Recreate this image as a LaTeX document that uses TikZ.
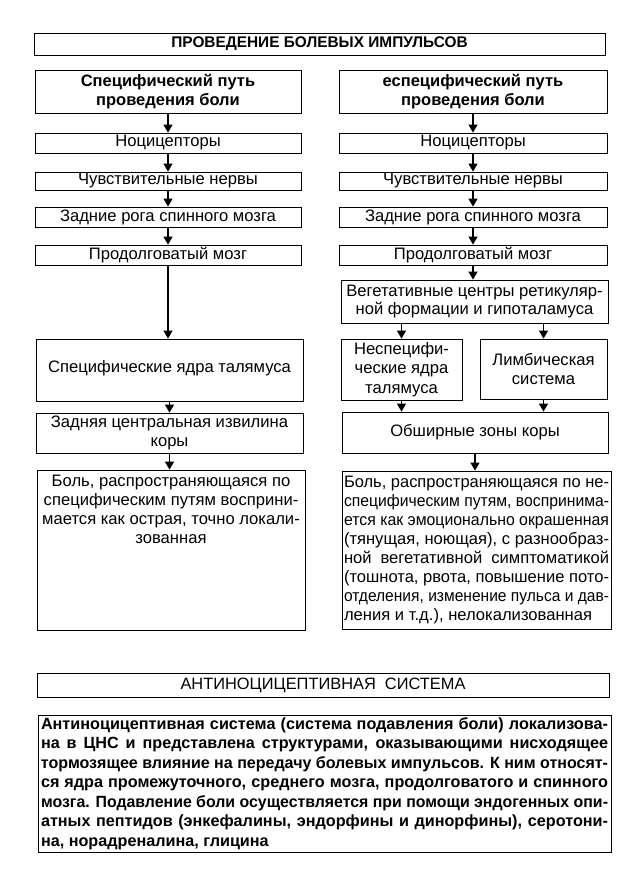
\documentclass[tikz,border=0pt]{standalone}
\usepackage{fontspec}
\setmainfont{Liberation Sans}
\usetikzlibrary{arrows.meta}
\newcommand\fs{\fontsize{16.6}{18.9}\selectfont}
\newcommand\fsb{\fontsize{16.2}{19.5}\selectfont\bfseries}
\newsavebox\jbox
\newcommand\jl[1]{\sbox\jbox{#1}\ifdim\wd\jbox>\linewidth\resizebox{\linewidth}{\height}{#1}\else\makebox[\linewidth][s]{#1}\fi}
\begin{document}
\begin{tikzpicture}[x=1pt,y=-1pt,
  box/.style={draw,line width=0.8pt,inner sep=0pt,align=center,font=\fs},
  arr/.style={line width=1.1pt,-{Triangle[width=9pt,length=8pt]}}]
\useasboundingbox (0,0) rectangle (624,875);
% title
\node[box,minimum width=571pt,minimum height=22pt,font=\fontsize{15.4}{17}\selectfont\bfseries] (title) at (319.5,44) {ПРОВЕДЕНИЕ БОЛЕВЫХ ИМПУЛЬСОВ};
% heads
\node[box,minimum width=266pt,minimum height=43pt,font=\fontsize{16.5}{19}\selectfont\bfseries] (hL) at (168,91.5) {Специфический путь\\проведения боли};
\node[box,minimum width=268pt,minimum height=43pt,font=\fontsize{16.5}{19}\selectfont\bfseries] (hR) at (473,91.5) {еспецифический путь\\проведения боли};
% left column
\node[box,minimum width=266pt,minimum height=20pt] (nL) at (168,143) {Ноцицепторы};
\node[box,minimum width=266pt,minimum height=18pt] (cL) at (168,181) {Чувствительные нервы};
\node[box,minimum width=266pt,minimum height=20pt] (zL) at (168,217) {Задние рога спинного мозга};
\node[box,minimum width=266pt,minimum height=20pt] (pL) at (168,255) {Продолговатый мозг};
\node[box,minimum width=267pt,minimum height=62pt] (sL) at (169.5,370) {\raisebox{7pt}{Специфические ядра талямуса}};
\node[box,minimum width=267pt,minimum height=40pt] (zcL) at (169.5,433) {Задняя центральная извилина\\коры};
\node[box,minimum width=268pt,minimum height=160pt] (bL) at (171,550) {\parbox[t][160pt][t]{264pt}{\centering\vspace*{5pt}Боль, распространяющаяся по\\специфическим путям восприни-\\мается как острая, точно локали-\\зованная}};
% right column
\node[box,minimum width=268pt,minimum height=20pt] (nR) at (473,143) {Ноцицепторы};
\node[box,minimum width=268pt,minimum height=18pt] (cR) at (473,181) {Чувствительные нервы};
\node[box,minimum width=268pt,minimum height=20pt] (zR) at (473,217) {Задние рога спинного мозга};
\node[box,minimum width=268pt,minimum height=20pt] (pR) at (473,255) {Продолговатый мозг};
\node[box,minimum width=267pt,minimum height=43pt] (veg) at (474.5,301.5) {Вегетативные центры ретикуляр-\\ной формации и гипоталамуса};
\node[box,minimum width=121pt,minimum height=61pt,font=\fontsize{16.6}{19.5}\selectfont] (nsp) at (401.5,369.5) {Неспецифи-\\ческие ядра\\талямуса};
\node[box,minimum width=127pt,minimum height=60pt] (limb) at (543.5,369) {Лимбическая\\система};
\node[box,minimum width=266pt,minimum height=41pt] (obsh) at (475,432.5) {Обширные зоны коры};
\node[box,minimum width=269pt,minimum height=158pt] (bR) at (476.5,550) {\parbox{265pt}{%
\jl{Боль, распространяющаяся по не-}\\
\jl{специфическим путям, воспринима-}\\
\jl{ется как эмоционально окрашенная}\\
\jl{(тянущая, ноющая), с разнообраз-}\\
\jl{ной вегетативной симптоматикой}\\
\jl{(тошнота, рвота, повышение пото-}\\
\jl{отделения, изменение пульса и дав-}\\
ления и т.д.), нелокализованная}};
% arrows
\draw[arr] (hL.south) -- (nL.north);
\draw[arr] (nL.south) -- (cL.north);
\draw[arr] (cL.south) -- (zL.north);
\draw[arr] (zL.south) -- (pL.north);
\draw[arr] (pL.south) -- (pL.south |- sL.north);
\draw[arr] (sL.south) -- (sL.south |- zcL.north);
\draw[arr] (zcL.south) -- (zcL.south |- bL.north);
\draw[arr] (hR.south) -- (nR.north);
\draw[arr] (nR.south) -- (cR.north);
\draw[arr] (cR.south) -- (zR.north);
\draw[arr] (zR.south) -- (pR.north);
\draw[arr] (pR.south) -- (pR.south |- veg.north);
\draw[arr] (nsp.north |- veg.south) -- (nsp.north);
\draw[arr] (limb.north |- veg.south) -- (limb.north);
\draw[arr] (nsp.south) -- (nsp.south |- obsh.north);
\draw[arr] (limb.south) -- (limb.south |- obsh.north);
\draw[arr] (obsh.south) -- (obsh.south |- bR.north);
% antinociceptive
\node[box,minimum width=572pt,minimum height=24pt,font=\fontsize{16.4}{18}\selectfont] (antiT) at (323,685) {АНТИНОЦИЦЕПТИВНАЯ\ \ СИСТЕМА};
\node[box,minimum width=573pt,minimum height=137pt,font=\fsb] (antiX) at (324.5,783.5) {\parbox{567pt}{%
\jl{Антиноцицептивная система (система подавления боли) локализова-}\\
\jl{на в ЦНС и представлена структурами, оказывающими нисходящее}\\
\jl{тормозящее влияние на передачу болевых импульсов. К ним относят-}\\
\jl{ся ядра промежуточного, среднего мозга, продолговатого и спинного}\\
\jl{мозга. Подавление боли осуществляется при помощи эндогенных опи-}\\
\jl{атных пептидов (энкефалины, эндорфины и динорфины), серотони-}\\
на, норадреналина, глицина}};
\end{tikzpicture}
\end{document}
